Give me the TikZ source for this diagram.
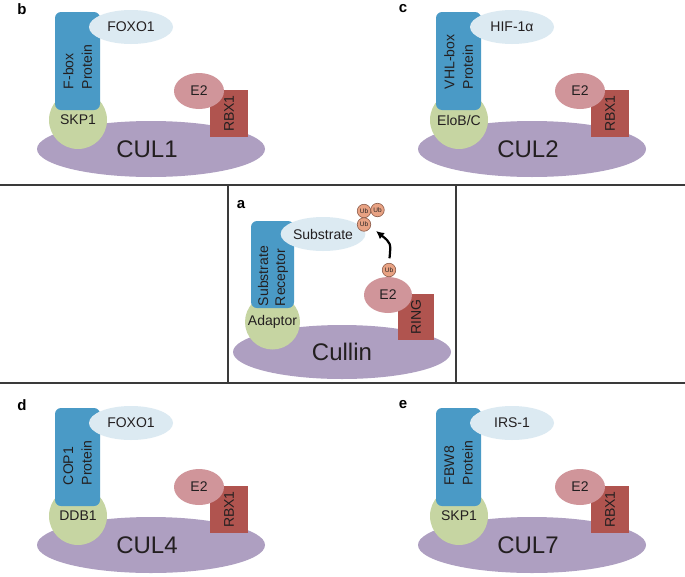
\documentclass[tikz,border=0pt]{standalone}
\usepackage{fontspec}
\setmainfont{Liberation Sans}
\usetikzlibrary{shapes.geometric,arrows.meta}
\definecolor{recblue}{HTML}{4A9AC6}
\definecolor{subblue}{HTML}{DCEAF2}
\definecolor{adgreen}{HTML}{C6D5A2}
\definecolor{culpurple}{HTML}{AE9FC1}
\definecolor{etwopink}{HTML}{D0959A}
\definecolor{rbxred}{HTML}{B0544F}
\definecolor{ubsalmon}{HTML}{E8A283}
\definecolor{ubedge}{HTML}{8A5A48}
\definecolor{txt}{HTML}{231F20}
\definecolor{sepgray}{HTML}{3A3A3A}
\tikzset{
  base/.style={inner sep=0pt, outer sep=0pt, text=txt, font=\fontsize{14}{16}\selectfont},
  culshape/.style={base, ellipse, fill=culpurple, font=\fontsize{24}{26}\selectfont},
  adshape/.style={base, circle, fill=adgreen},
  recshape/.style={base, rectangle, rounded corners=6pt, fill=recblue},
  rectext/.style={base, rotate=90, anchor=west, align=left, font=\fontsize{14}{18.5}\selectfont},
  subshape/.style={base, ellipse, fill=subblue},
  rbxshape/.style={base, rectangle, rotate=90, fill=rbxred},
  etwoshape/.style={base, ellipse, fill=etwopink},
  panellabel/.style={base, font=\fontsize{15}{16}\selectfont\bfseries, text=black},
  ubshape/.style={base, circle, minimum size=13.5pt, fill=ubsalmon, draw=ubedge, line width=0.6pt, font=\fontsize{6.5}{7}\selectfont},
  sepline/.style={draw=sepgray, line width=1.6pt},
  ubarrow/.style={draw=black, line width=2.2pt, -{Latex[length=8pt,width=8pt]}}
}
\newcommand\crlpanel[9]{%
  \begin{scope}[shift={(#2,#3)}]
    \node[panellabel] (#1lab) at (22,9) {#4};
    \node[culshape, minimum width=228pt, minimum height=56pt] (#1cul) at (151,149) {\hspace*{-8pt}#9};
    \node[adshape, minimum size=58pt] (#1ad) at (78,120) {#8};
    \node[recshape, minimum width=45pt, minimum height=98pt] (#1rec) at (77.5,61) {};
    \node[rectext] (#1rect) at (77.5,89) {#5\\#6};
    \node[subshape, minimum width=84pt, minimum height=34pt] (#1sub) at (131,27) {#7};
    \node[rbxshape, minimum width=47pt, minimum height=38pt] (#1rbx) at (229,113.5) {RBX1};
    \node[etwoshape, minimum width=50pt, minimum height=36pt] (#1e2) at (199,91) {E2};
  \end{scope}}
\begin{document}
\begin{tikzpicture}[x=1pt,y=-1pt]
  \useasboundingbox[fill=white] (0,0) rectangle (685,576);
  % dividers
  \coordinate (hl1) at (0,185);   \coordinate (hr1) at (685,185);
  \coordinate (hl2) at (0,383);   \coordinate (hr2) at (685,383);
  \coordinate (vt1) at (228,185); \coordinate (vb1) at (228,383);
  \coordinate (vt2) at (456,185); \coordinate (vb2) at (456,383);
  \draw[sepline] (hl1) -- (hr1);
  \draw[sepline] (hl2) -- (hr2);
  \draw[sepline] (vt1) -- (vb1);
  \draw[sepline] (vt2) -- (vb2);
  % panels b-e
  \crlpanel{b}{0}{0}{b}{F-box}{Protein}{FOXO1}{SKP1}{CUL1}
  \crlpanel{c}{381}{0}{c}{VHL-box}{Protein}{HIF-1α}{EloB/C}{CUL2}
  \crlpanel{d}{0}{396}{d}{COP1}{Protein}{FOXO1}{DDB1}{CUL4}
  \crlpanel{e}{381}{396}{e}{FBW8}{Protein}{IRS-1}{SKP1}{CUL7}
  % panel a
  \node[panellabel] (alab) at (241,205) {a};
  \node[culshape, minimum width=218pt, minimum height=54pt] (acul) at (342,352) {Cullin};
  \node[adshape, minimum size=55pt] (aad) at (272.5,322) {Adaptor};
  \node[recshape, minimum width=43pt, minimum height=87pt] (arec) at (272.5,264.5) {};
  \node[rectext, font=\fontsize{14}{17}\selectfont] (arect) at (273,306) {Substrate\\Receptor};
  \node[subshape, minimum width=80pt, minimum height=34pt] (asub) at (323,234) {Substrate};
  \node[rbxshape, minimum width=46pt, minimum height=36pt] (aring) at (416,317) {RING};
  \node[etwoshape, minimum width=48pt, minimum height=36pt] (ae2) at (388,295) {E2};
  \node[ubshape] (aubE) at (389,270) {Ub};
  \node[ubshape] (aub1) at (364,211) {Ub};
  \node[ubshape] (aub2) at (377.5,210) {Ub};
  \node[ubshape] (aub3) at (364,224.5) {Ub};
  \coordinate (atip) at (376,231);
  \draw[ubarrow, shorten <=5pt] (aubE.north) .. controls (391,243) .. (atip);
\end{tikzpicture}
\end{document}
